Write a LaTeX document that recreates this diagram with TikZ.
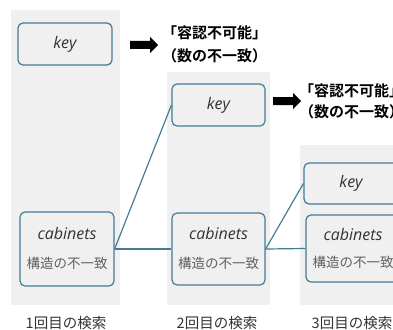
\documentclass[tikz,border=0pt]{standalone}
\usepackage{fontspec}
\newfontfamily\latinfont{Open Sans}
\newfontfamily\cjk{Noto Sans CJK JP}[BoldFont={Noto Sans CJK JP Bold}]
\definecolor{panelgray}{HTML}{F0F0F0}
\definecolor{edgeblue}{HTML}{467B97}
\definecolor{textdark}{HTML}{333333}
\definecolor{textgray}{HTML}{606060}
\tikzset{
  panel/.style={fill=panelgray, draw=none},
  entrybox/.style={draw=edgeblue, line width=1.2pt, rounded corners=5pt,
    fill=panelgray, inner sep=0pt},
  keybox/.style={entrybox, minimum width=94pt, minimum height=42pt},
  cabbox/.style={entrybox, minimum width=94pt, minimum height=73pt},
  entryname/.style={font=\latinfont\itshape\fontsize{16}{18}\selectfont, text=textdark, inner sep=0pt},
  entrynote/.style={font=\cjk\fontsize{13.5}{15}\selectfont, text=textgray, inner sep=0pt},
  steplabel/.style={font=\cjk\fontsize{14.5}{16}\selectfont, text=textdark, inner sep=0pt},
  verdict/.style={font=\cjk\bfseries\fontsize{15}{17}\selectfont, text=black, inner sep=0pt, anchor=west},
  link/.style={draw=edgeblue, line width=1.2pt},
  blockarrow/.pic={\fill[black] (0,-4) -- (20,-4) -- (20,-8) -- (28,0) -- (20,8) -- (20,4) -- (0,4) -- cycle;}
}
\begin{document}
\begin{tikzpicture}[x=1pt, y=-1pt]
\useasboundingbox (0,0) rectangle (393,329);

% search panels
\fill[panel] (11,10) rectangle (120,305);
\fill[panel] (167,72) rectangle (270,305);
\fill[panel] (300,145) rectangle (410,305);

% first search
\node[keybox] (k1) at (65,44) {};
\node[entryname] (k1t) at (k1.center) {key};
\node[cabbox, minimum height=74pt] (c1) at (67,249) {};
\node[entryname] (c1t) at ([yshift=16pt]c1.center) {cabinets};
\node[entrynote] (c1n) at ([yshift=-14pt]c1.center) {構造の不一致};
\node[steplabel] (s1) at (66,323) {1回目の検索};

% second search
\node[keybox, minimum width=93pt] (k2) at (218.5,105) {};
\node[entryname] (k2t) at (k2.center) {key};
\node[cabbox, minimum width=93pt, minimum height=72pt] (c2) at (218.5,249) {};
\node[entryname] (c2t) at ([yshift=16pt]c2.center) {cabinets};
\node[entrynote] (c2n) at ([yshift=-14pt]c2.center) {構造の不一致};
\node[steplabel] (s2) at (217,323) {2回目の検索};

% third search
\node[keybox, minimum height=41pt] (k3) at (351,183.5) {};
\node[entryname] (k3t) at (k3.center) {key};
\node[cabbox, minimum height=67pt] (c3) at (353,248.5) {};
\node[entryname] (c3t) at ([yshift=14pt]c3.center) {cabinets};
\node[entrynote] (c3n) at ([yshift=-14pt]c3.center) {構造の不一致};
\node[steplabel] (s3) at (352,323) {3回目の検索};

% links between searches
\draw[link] (c1.east) -- (k2.west);
\draw[link] (c1.east) -- (c2.west);
\draw[link] (c2.east) -- (k3.west);
\draw[link] (c2.east) -- (c3.west);

% verdicts
\pic at (130,45) {blockarrow};
\node[verdict] (v1a) at (162,33) {「容認不可能」};
\node[verdict] (v1b) at (162,56) {（数の不一致）};
\pic at (273,101) {blockarrow};
\node[verdict] (v2a) at (299,91) {「容認不可能」};
\node[verdict] (v2b) at (299,112) {（数の不一致）};
\end{tikzpicture}
\end{document}
